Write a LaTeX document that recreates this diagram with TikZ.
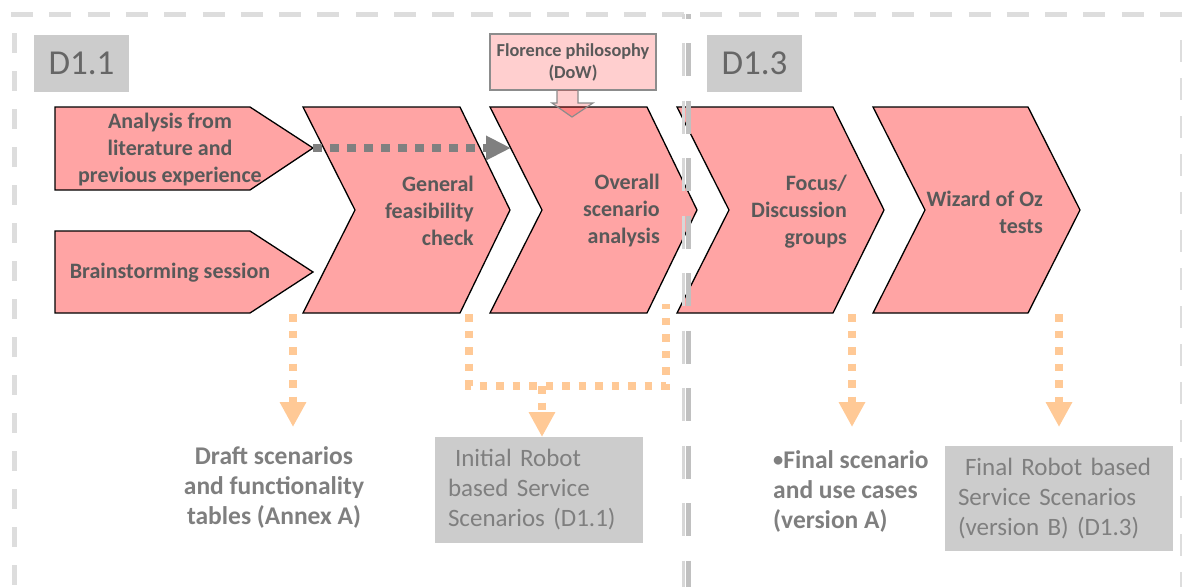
\documentclass[tikz,border=0pt]{standalone}
\usepackage{fontspec}
\setmainfont{Carlito}
\usetikzlibrary{arrows.meta}

\definecolor{chevfill}{RGB}{255,164,164}
\definecolor{chevink}{RGB}{89,89,89}
\definecolor{outink}{RGB}{127,127,127}
\definecolor{labelbox}{RGB}{204,204,204}
\definecolor{labelink}{RGB}{102,102,102}
\definecolor{framegray}{RGB}{221,221,221}
\definecolor{dividerlight}{RGB}{215,215,215}
\definecolor{dividerdark}{RGB}{192,192,192}
\definecolor{flowgray}{RGB}{128,128,128}
\definecolor{outorange}{RGB}{255,201,150}
\definecolor{notefill}{RGB}{255,207,207}
\definecolor{noteedge}{RGB}{140,140,140}

\begin{document}
\begin{tikzpicture}[x=1pt,y=-1pt,
  chevshape/.style={fill=chevfill, draw=black, line width=1.3pt, line join=miter},
  chevtext/.style={font=\fontsize{22}{27}\selectfont\bfseries, text=chevink, inner sep=0pt},
  phaselabel/.style={fill=labelbox, text=labelink, font=\fontsize{35}{40}\selectfont,
                     minimum width=95pt, minimum height=57pt, inner sep=0pt},
  resulttext/.style={font=\fontsize{25.5}{30}\selectfont\bfseries, text=outink, inner sep=0pt},
  resultbox/.style={fill=labelbox, text=outink, font=\fontsize{25}{30}\selectfont,
                    inner xsep=13pt, inner ysep=0pt, align=left},
  flowdots/.style={draw=flowgray, line width=8.3pt, dash pattern=on 8.5pt off 8.5pt,
                   -{Triangle[length=25pt,width=23pt]}},
  outdots/.style={draw=outorange, line width=8pt, dash pattern=on 7.5pt off 9pt},
  outarrow/.style={outdots, -{Triangle[length=25pt,width=25pt]}}
]
\useasboundingbox (0,0) rectangle (1182,587);

% outer frame (top, left and right sides)
\draw[framegray, line width=5pt, dash pattern=on 22pt off 16.3pt] (11,14.5) -- (1182,14.5);
\draw[framegray, line width=5pt, dash pattern=on 20pt off 18pt] (14,33) -- (14,587);
\draw[framegray, line width=1.5pt, dash pattern=on 22pt off 16pt] (1181,40) -- (1181,587);

% phase labels
\node[phaselabel] (d11) at (81.5,63.5) {D1.1};
\node[phaselabel] (d13) at (754.5,63.5) {D1.3};

% input pentagons
\draw[chevshape] (55,107) -- (250,107) -- (313,148) -- (250,190) -- (55,190) -- cycle;
\draw[chevshape] (55,231) -- (250,231) -- (313,272) -- (250,313) -- (55,313) -- cycle;
\node[chevtext, align=center] (lit) at (170,150) {Analysis from\\literature and\\previous experience};
\node[chevtext, align=center] (brain) at (170,273) {Brainstorming session};

% process chevrons
\draw[chevshape] (303,107) -- (460,107) -- (510,210) -- (460,313) -- (303,313) -- (355,210) -- cycle;
\draw[chevshape] (490,107) -- (647,107) -- (697,210) -- (647,313) -- (490,313) -- (542,210) -- cycle;
\draw[chevshape] (677,107) -- (833,107) -- (884,210) -- (833,313) -- (677,313) -- (729,210) -- cycle;
\draw[chevshape] (873,107) -- (1028,107) -- (1080,210) -- (1028,313) -- (873,313) -- (925,210) -- cycle;
\node[chevtext, align=right, anchor=east] (feas) at (474,210.5) {General\\feasibility\\check};
\node[chevtext, align=right, anchor=east] (overall) at (660,210.5) {Overall\\scenario\\analysis};
\node[chevtext, align=right, anchor=east] (focus) at (847,211.5) {Focus/\\Discussion\\groups};
\node[chevtext, align=right, anchor=east] (woz) at (1043,212.5) {Wizard of Oz\\tests};

% Florence philosophy note with its block arrow
\node[fill=notefill, draw=noteedge, line width=1.2pt, minimum width=166pt, minimum height=56pt,
      inner sep=0pt, align=center, text=chevink, font=\fontsize{18.3}{22}\selectfont\bfseries]
      (flor) at (573,62) {Florence philosophy\\(DoW)};
\draw[fill=red, fill opacity=0.19, draw=noteedge, line width=1.2pt, line join=miter]
  (557,90) -- (557,103) -- (552,103) -- (572,117) -- (593,103) -- (578,103) -- (578,90);

% information flow from the literature analysis
\coordinate (litTip) at (313,148);
\coordinate (overallEdge) at (511,148);
\draw[flowdots] (litTip) -- (overallEdge);

% divider between D1.1 and D1.3
\draw[dividerlight, line width=2.5pt, dash pattern=on 33pt off 24.5pt, dash phase=28.5pt] (683.5,14) -- (683.5,587);
\draw[dividerdark, line width=4.5pt, dash pattern=on 33pt off 24.5pt, dash phase=28.5pt] (688.5,14) -- (688.5,587);

% outputs
\node[resulttext, align=center] (draft) at (274,487) {Draft scenarios\\and functionality\\tables (Annex A)};
\node[resultbox, text width=182pt, minimum height=106pt] (initial) at (539,490)
  {\hspace*{7pt}Initial Robot\\based Service\\Scenarios (D1.1)};
\node[resulttext, align=left, anchor=west] (finalA) at (773,491)
  {\raisebox{1.6pt}{\scalebox{0.8}{•}}Final scenario\\and use cases\\(version A)};
\node[resultbox, text width=202pt, minimum height=105pt] (finalB) at (1059,498.5)
  {\hspace*{7pt}Final Robot based\\Service Scenarios\\(version B) (D1.3)};

% output arrows
\coordinate (feasOut) at (293,314);
\coordinate (draftIn) at (293,427);
\draw[outarrow] (feasOut) -- (draftIn);

\coordinate (feasBase) at (469,314);
\coordinate (overallBase) at (666,304);
\coordinate (joinL) at (469,386);
\coordinate (joinR) at (666,386);
\coordinate (joinMid) at (542,386);
\coordinate (initialIn) at (542,437);
\draw[outdots] (feasBase) -- (joinL) -- (joinR) -- (overallBase);
\draw[outarrow] (joinMid) -- (initialIn);

\coordinate (focusOut) at (852,314);
\coordinate (finalAIn) at (852,427);
\draw[outarrow] (focusOut) -- (finalAIn);

\coordinate (wozOut) at (1059,314);
\coordinate (finalBIn) at (1059,427);
\draw[outarrow] (wozOut) -- (finalBIn);
\end{tikzpicture}
\end{document}
